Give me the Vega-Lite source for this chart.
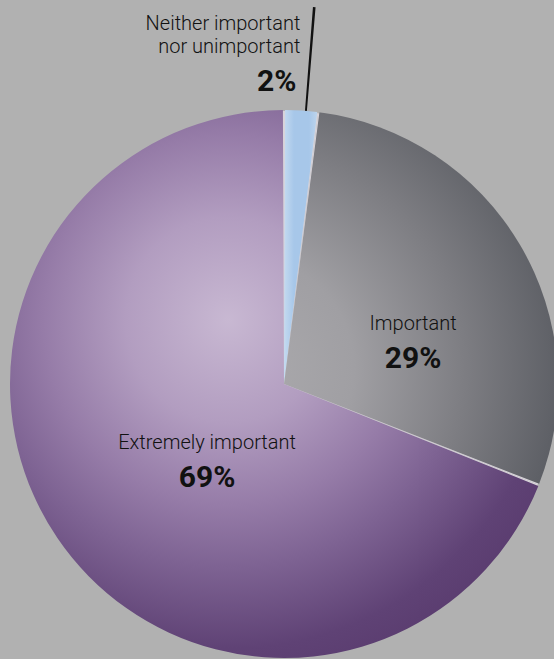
{
  "$schema": "https://vega.github.io/schema/vega-lite/v6.json",
  "width": 540,
  "height": 550,
  "autosize": {"type": "none"},
  "padding": {"left": 14, "top": 109, "right": 0, "bottom": 0},
  "background": "#b1b1b1",
  "config": {"view": {"stroke": null}},
  "data": {
    "values": [
      {"k": 1, "label": ["Neither important", "nor unimportant"], "share": 0.02},
      {"k": 2, "label": "Important", "share": 0.29},
      {"k": 3, "label": "Extremely important", "share": 0.69}
    ]
  },
  "layer": [
    {
      "transform": [{"stack": "share", "groupby": [], "sort": [{"field": "k"}], "as": ["v0", "v1"]}],
      "mark": {"type": "arc", "outerRadius": 273, "fill": "#d8d4da"},
      "encoding": {
        "theta": {"field": "v0", "type": "quantitative", "scale": {"domain": [0, 1]}},
        "theta2": {"field": "v1"}
      }
    },
    {
      "transform": [{"stack": "share", "groupby": [], "sort": [{"field": "k"}], "as": ["v0", "v1"]}, {"filter": "datum.k == 1"}],
      "mark": {"type": "arc", "outerRadius": 274, "padAngle": 0.008,
        "fill": {"gradient": "linear", "x1": 0, "y1": 0, "x2": 1, "y2": 0,
          "stops": [{"offset": 0, "color": "#c4daf0"}, {"offset": 0.3, "color": "#a7c7e9"}, {"offset": 0.75, "color": "#a7c7e9"}, {"offset": 1, "color": "#bdd4ec"}]}},
      "encoding": {
        "theta": {"field": "v0", "type": "quantitative", "scale": {"domain": [0, 1]}},
        "theta2": {"field": "v1"}
      }
    },
    {
      "transform": [{"stack": "share", "groupby": [], "sort": [{"field": "k"}], "as": ["v0", "v1"]}, {"filter": "datum.k == 2"}],
      "mark": {"type": "arc", "outerRadius": 274, "padAngle": 0.008,
        "fill": {"gradient": "radial", "x1": 0.02, "y1": 0.69, "r1": 0, "x2": 0.02, "y2": 0.69, "r2": 1,
          "stops": [{"offset": 0, "color": "#abaaad"}, {"offset": 0.3, "color": "#a09fa3"}, {"offset": 0.6, "color": "#7d7d82"}, {"offset": 0.85, "color": "#5e6066"}, {"offset": 1, "color": "#53565c"}]}},
      "encoding": {
        "theta": {"field": "v0", "type": "quantitative", "scale": {"domain": [0, 1]}},
        "theta2": {"field": "v1"}
      }
    },
    {
      "transform": [{"stack": "share", "groupby": [], "sort": [{"field": "k"}], "as": ["v0", "v1"]}, {"filter": "datum.k == 3"}],
      "mark": {"type": "arc", "outerRadius": 274, "padAngle": 0.008,
        "fill": {"gradient": "radial", "x1": 0.416, "y1": 0.383, "r1": 0, "x2": 0.416, "y2": 0.383, "r2": 0.75,
          "stops": [{"offset": 0, "color": "#c8b8d2"}, {"offset": 0.25, "color": "#b29dc0"}, {"offset": 0.45, "color": "#967ca8"}, {"offset": 0.6, "color": "#7e6393"}, {"offset": 0.8, "color": "#5f4275"}, {"offset": 1, "color": "#553669"}]}},
      "encoding": {
        "theta": {"field": "v0", "type": "quantitative", "scale": {"domain": [0, 1]}},
        "theta2": {"field": "v1"}
      }
    },
    {
      "transform": [{"filter": "datum.k == 1"}],
      "mark": {"type": "arc", "innerRadius": 274, "outerRadius": 378, "fill": "#111111"},
      "encoding": {
        "theta": {"datum": 0.0122, "type": "quantitative", "scale": {"domain": [0, 1]}},
        "theta2": {"datum": 0.0133}
      }
    },
    {
      "mark": {"type": "text", "radius": 340, "dx": -5, "dy": -21, "align": "right", "font": "Roboto", "fontSize": 20, "fontWeight": 300, "lineHeight": 23, "color": "#111111"},
      "encoding": {
        "theta": {"field": "share", "type": "quantitative", "stack": true, "scale": {"domain": [0, 1]}},
        "order": {"field": "k"},
        "text": {"condition": {"test": "datum.k == 1", "field": "label"}, "value": ""}
      }
    },
    {
      "mark": {"type": "text", "radius": 340, "dx": -9, "dy": 37, "align": "right", "font": "Roboto", "fontSize": 30, "fontWeight": "bold", "color": "#111111"},
      "encoding": {
        "theta": {"field": "share", "type": "quantitative", "stack": true, "scale": {"domain": [0, 1]}},
        "order": {"field": "k"},
        "text": {"condition": {"test": "datum.k == 1", "field": "share", "format": ".0%"}, "value": ""}
      }
    },
    {
      "mark": {"type": "text", "radius": 150, "dx": 0, "dy": 16, "align": "center", "font": "Roboto", "fontSize": 20, "fontWeight": 300, "color": "#111111"},
      "encoding": {
        "theta": {"field": "share", "type": "quantitative", "stack": true, "scale": {"domain": [0, 1]}},
        "order": {"field": "k"},
        "text": {"condition": {"test": "datum.k == 2", "field": "label"}, "value": ""}
      }
    },
    {
      "mark": {"type": "text", "radius": 150, "dx": 0, "dy": 51, "align": "center", "font": "Roboto", "fontSize": 30, "fontWeight": "bold", "color": "#111111"},
      "encoding": {
        "theta": {"field": "share", "type": "quantitative", "stack": true, "scale": {"domain": [0, 1]}},
        "order": {"field": "k"},
        "text": {"condition": {"test": "datum.k == 2", "field": "share", "format": ".0%"}, "value": ""}
      }
    },
    {
      "mark": {"type": "text", "radius": 93, "dx": 0, "dy": 7, "align": "center", "font": "Roboto", "fontSize": 20, "fontWeight": 300, "color": "#111111"},
      "encoding": {
        "theta": {"field": "share", "type": "quantitative", "stack": true, "scale": {"domain": [0, 1]}},
        "order": {"field": "k"},
        "text": {"condition": {"test": "datum.k == 3", "field": "label"}, "value": ""}
      }
    },
    {
      "mark": {"type": "text", "radius": 93, "dx": 0, "dy": 42, "align": "center", "font": "Roboto", "fontSize": 30, "fontWeight": "bold", "color": "#111111"},
      "encoding": {
        "theta": {"field": "share", "type": "quantitative", "stack": true, "scale": {"domain": [0, 1]}},
        "order": {"field": "k"},
        "text": {"condition": {"test": "datum.k == 3", "field": "share", "format": ".0%"}, "value": ""}
      }
    }
  ]
}
